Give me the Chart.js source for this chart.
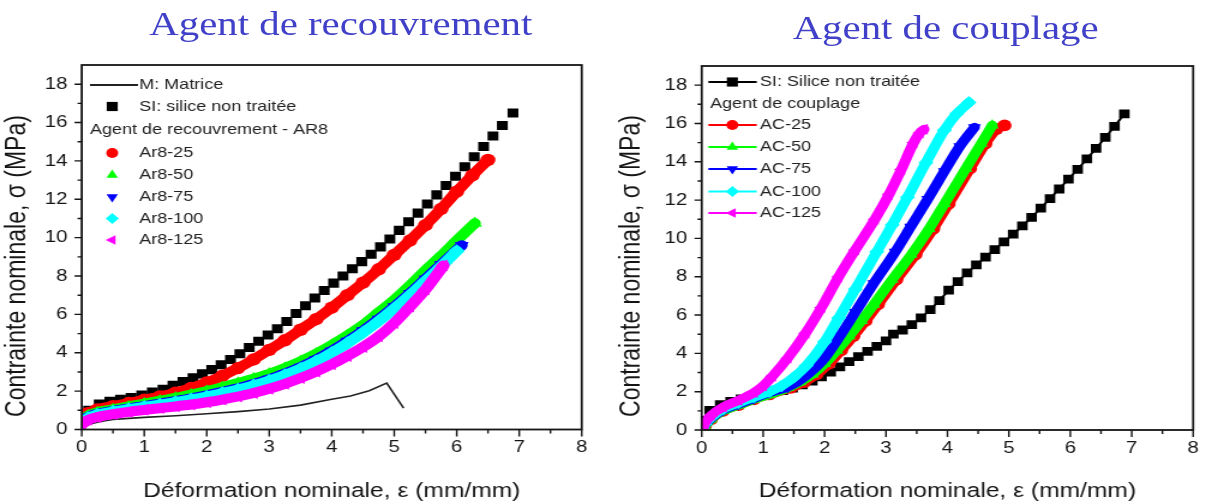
<!DOCTYPE html>
<html>
<head>
<meta charset="utf-8">
<script src="https://cdn.jsdelivr.net/npm/chart.js@4.4.0/dist/chart.umd.min.js"></script>
<style>
  body { margin: 0; background: #fff; width: 1208px; height: 504px; overflow: hidden; position: relative; }
  .panel { position: absolute; top: 0; height: 504px; transform: scaleX(1.2); transform-origin: 0 0; }
  .panel canvas { position: absolute; left: 0; top: 0; }
  .title { position: absolute; width: 400px; text-align: center; font-family: 'Liberation Serif', 'Times New Roman', serif; font-size: 34px; color: #4040c8; white-space: nowrap; }
</style>
</head>
<body>
<div class="panel" style="left:0;width:500px">
  <div class="title" style="left:84px;top:5px">Agent de recouvrement</div>
  <canvas id="left" width="500" height="504"></canvas>
</div>
<div class="panel" style="left:600px;width:507px">
  <div class="title" style="left:88px;top:9px">Agent de couplage</div>
  <canvas id="right" width="507" height="504"></canvas>
</div>
<script>
// axis ticks
const xTicks = [0, 1, 2, 3, 4, 5, 6, 7, 8];
const xMinorTicks = [0.5, 1.5, 2.5, 3.5, 4.5, 5.5, 6.5, 7.5];
const yTicks = [0, 2, 4, 6, 8, 10, 12, 14, 16, 18];
const yMinorTicks = [1, 3, 5, 7, 9, 11, 13, 15, 17];

const xTitle = "Déformation nominale, ε (mm/mm)";
const yTitle = "Contrainte nominale, σ (MPa)";

// left panel : agent de recouvrement  [strain, stress]
const matrice = [[0,0],[0.05,0.15],[0.15,0.3],[0.3,0.42],[0.5,0.52],[0.75,0.58],[1,0.63],[1.5,0.72],[2,0.82],[2.5,0.93],[3,1.07],[3.5,1.27],[4,1.58],[4.3,1.75],[4.6,2.02],[4.88,2.42],[5.15,1.11]];
const siLeft = [[0.02,0.75],[0.11,1.0],[0.28,1.33],[0.45,1.47],[0.62,1.57],[0.79,1.67],[0.96,1.8],[1.13,1.95],[1.3,2.1],[1.46,2.3],[1.62,2.5],[1.78,2.7],[1.93,2.9],[2.08,3.12],[2.23,3.37],[2.38,3.65],[2.53,3.95],[2.68,4.27],[2.83,4.6],[2.98,4.93],[3.13,5.25],[3.28,5.63],[3.43,6.05],[3.58,6.45],[3.73,6.85],[3.88,7.25],[4.03,7.63],[4.18,8.0],[4.33,8.38],[4.48,8.75],[4.63,9.13],[4.78,9.52],[4.93,9.93],[5.08,10.38],[5.23,10.83],[5.38,11.28],[5.53,11.75],[5.68,12.23],[5.83,12.72],[5.98,13.2],[6.13,13.7],[6.28,14.22],[6.43,14.75],[6.58,15.3],[6.73,15.85],[6.9,16.5]];
const ar25 = [[0,0.5],[0.1,0.85],[0.25,1.05],[0.5,1.22],[0.75,1.38],[1,1.55],[1.25,1.72],[1.5,1.92],[1.75,2.17],[2,2.45],[2.25,2.8],[2.5,3.2],[2.75,3.65],[3,4.15],[3.25,4.65],[3.5,5.2],[3.75,5.75],[4,6.35],[4.25,7.0],[4.5,7.65],[4.75,8.35],[5,9.1],[5.25,9.85],[5.5,10.65],[5.75,11.5],[6,12.4],[6.25,13.25],[6.5,14.05]];
const ar50 = [[0,0.4],[0.1,0.72],[0.25,0.9],[0.5,1.05],[0.75,1.2],[1,1.35],[1.25,1.5],[1.5,1.65],[1.75,1.82],[2,2.0],[2.25,2.2],[2.5,2.42],[2.75,2.65],[3,2.9],[3.25,3.2],[3.5,3.55],[3.75,3.95],[4,4.4],[4.25,4.9],[4.5,5.45],[4.75,6.1],[5,6.75],[5.25,7.5],[5.5,8.3],[5.75,9.05],[6,9.85],[6.29,10.75]];
const ar75 = [[0,0.35],[0.1,0.65],[0.25,0.82],[0.5,0.97],[0.75,1.1],[1,1.22],[1.25,1.35],[1.5,1.48],[1.75,1.62],[2,1.78],[2.25,1.96],[2.5,2.15],[2.75,2.37],[3,2.62],[3.25,2.92],[3.5,3.25],[3.75,3.65],[4,4.1],[4.25,4.6],[4.5,5.15],[4.75,5.75],[5,6.4],[5.25,7.1],[5.5,7.85],[5.75,8.6],[6.08,9.6]];
const ar100 = [[0,0.3],[0.1,0.6],[0.25,0.78],[0.5,0.93],[0.75,1.06],[1,1.18],[1.25,1.3],[1.5,1.43],[1.75,1.57],[2,1.72],[2.25,1.9],[2.5,2.08],[2.75,2.3],[3,2.55],[3.25,2.84],[3.5,3.17],[3.75,3.56],[4,4.0],[4.25,4.5],[4.5,5.05],[4.75,5.65],[5,6.3],[5.25,7.0],[5.5,7.75],[5.75,8.5],[6.0,9.3]];
const ar125 = [[0,0.25],[0.1,0.5],[0.25,0.65],[0.5,0.8],[0.75,0.92],[1,1.02],[1.25,1.11],[1.5,1.2],[1.75,1.3],[2,1.42],[2.25,1.56],[2.5,1.72],[2.75,1.9],[3,2.12],[3.25,2.38],[3.5,2.68],[3.75,3.02],[4,3.4],[4.25,3.83],[4.5,4.3],[4.75,4.85],[5,5.55],[5.25,6.4],[5.5,7.3],[5.79,8.55]];

// right panel : agent de couplage
const siRight = [[0.03,0.5],[0.13,1.02],[0.3,1.33],[0.47,1.5],[0.64,1.62],[0.81,1.73],[0.98,1.84],[1.15,1.95],[1.32,2.05],[1.48,2.18],[1.64,2.35],[1.8,2.55],[1.95,2.77],[2.1,3.02],[2.25,3.3],[2.4,3.57],[2.55,3.83],[2.7,4.1],[2.85,4.37],[3.0,4.65],[3.12,5.0],[3.27,5.22],[3.42,5.5],[3.57,5.85],[3.72,6.28],[3.87,6.75],[4.02,7.3],[4.17,7.75],[4.32,8.2],[4.47,8.62],[4.62,9.02],[4.77,9.42],[4.92,9.82],[5.07,10.22],[5.22,10.65],[5.37,11.1],[5.52,11.58],[5.67,12.08],[5.82,12.58],[5.97,13.1],[6.12,13.6],[6.27,14.15],[6.42,14.7],[6.57,15.27],[6.72,15.85],[6.88,16.5]];
const ac25 = [[0,0],[0.05,0.2],[0.15,0.55],[0.35,1.0],[0.6,1.3],[0.85,1.6],[1.1,1.85],[1.45,2.2],[1.67,2.5],[1.87,2.9],[2.07,3.45],[2.27,4.15],[2.47,4.9],[2.67,5.7],[2.87,6.55],[3.17,7.85],[3.48,9.15],[3.77,10.5],[4.02,11.8],[4.37,13.65],[4.62,14.95],[4.8,15.7],[4.93,15.9]];
const ac50 = [[0,0],[0.05,0.2],[0.15,0.55],[0.35,1.0],[0.6,1.3],[0.85,1.6],[1.1,1.85],[1.4,2.2],[1.6,2.5],[1.8,2.9],[2.0,3.45],[2.2,4.15],[2.4,4.9],[2.6,5.7],[2.8,6.55],[3.1,7.85],[3.41,9.15],[3.7,10.5],[3.95,11.8],[4.3,13.65],[4.55,14.95],[4.73,15.9]];
const ac75 = [[0,0],[0.05,0.25],[0.15,0.6],[0.35,1.05],[0.6,1.35],[0.85,1.65],[1.1,1.95],[1.4,2.25],[1.6,2.6],[1.8,3.1],[2.0,3.75],[2.25,4.9],[2.5,6.15],[2.8,7.65],[3.15,9.3],[3.4,10.6],[3.68,12.05],[3.95,13.5],[4.2,14.8],[4.44,15.8]];
const ac100 = [[0,0],[0.05,0.3],[0.15,0.65],[0.35,1.1],[0.6,1.42],[0.85,1.72],[1.1,2.0],[1.3,2.3],[1.5,2.75],[1.7,3.35],[2.0,4.6],[2.23,5.85],[2.5,7.35],[2.85,9.3],[3.1,10.7],[3.35,12.15],[3.65,13.95],[3.95,15.65],[4.15,16.5],[4.35,17.1]];
const ac125 = [[0,0],[0.05,0.35],[0.15,0.75],[0.35,1.2],[0.6,1.55],[0.85,1.95],[1.0,2.3],[1.15,2.8],[1.4,3.75],[1.69,5.05],[1.95,6.4],[2.23,8.0],[2.5,9.4],[2.82,11.0],[3.05,12.3],[3.25,13.6],[3.45,15.0],[3.55,15.5],[3.62,15.7]];

const FONT = "'Liberation Sans', Arial, sans-serif";
const INK = "#151515";

function xy(pairs) {
  return pairs.map(p => ({ x: p[0], y: p[1] }));
}

function band(label, pairs, color, style, rot, width, radius, order) {
  return {
    label, data: xy(pairs), showLine: true, order,
    borderColor: color, backgroundColor: color, borderWidth: width,
    borderJoinStyle: "round", borderCapStyle: "round",
    cubicInterpolationMode: "monotone",
    pointStyle: style, pointRotation: rot, pointRadius: radius,
    pointBackgroundColor: color, pointBorderWidth: 0, pointHoverRadius: radius
  };
}

function marker(ctx, ds, x, y, r) {
  ctx.fillStyle = ds.pointBackgroundColor;
  ctx.strokeStyle = ds.pointBackgroundColor;
  Chart.helpers.drawPoint(ctx, { pointStyle: ds.pointStyle, rotation: ds.pointRotation || 0, radius: r, borderWidth: 0 }, x, y);
}

// frame, minor ticks, y title, legend
const decor = {
  id: "decor",
  afterDraw(chart, args, o) {
    const { ctx, chartArea: a, scales } = chart;
    ctx.save();
    ctx.strokeStyle = INK;
    ctx.lineWidth = 1.8;
    ctx.strokeRect(a.left, a.top, a.right - a.left, a.bottom - a.top);

    ctx.lineWidth = 1.4;
    ctx.beginPath();
    xTicks.concat(xMinorTicks).forEach(v => {
      const p = scales.x.getPixelForValue(v);
      const len = xTicks.includes(v) ? 7 : 4;
      ctx.moveTo(p, a.bottom);
      ctx.lineTo(p, a.bottom + len);
    });
    yTicks.concat(yMinorTicks).forEach(v => {
      const p = scales.y.getPixelForValue(v);
      const len = yTicks.includes(v) ? 6 : 3.5;
      ctx.moveTo(a.left, p);
      ctx.lineTo(a.left - len, p);
    });
    ctx.stroke();

    ctx.save();
    ctx.translate(o.yTitleX, o.yTitleY);
    ctx.rotate(-Math.PI / 2);
    ctx.font = "23px " + FONT;
    ctx.fillStyle = INK;
    ctx.textAlign = "center";
    ctx.textBaseline = "middle";
    ctx.fillText(yTitle, 0, 0);
    ctx.restore();

    const lg = o.legend;
    ctx.font = "15px " + FONT;
    ctx.textAlign = "left";
    ctx.textBaseline = "middle";
    lg.rows.forEach(row => {
      ctx.fillStyle = "#222";
      if (row.header) {
        ctx.fillText(row.header, lg.hx, row.y);
        return;
      }
      const ds = chart.data.datasets[row.ds];
      if (row.line) {
        ctx.strokeStyle = ds.borderColor;
        ctx.lineWidth = 1.8;
        ctx.beginPath();
        ctx.moveTo(lg.x0, row.y);
        ctx.lineTo(lg.x1, row.y);
        ctx.stroke();
      }
      if (ds.pointRadius > 0) marker(ctx, ds, lg.mx, row.y, row.r || 5);
      ctx.fillStyle = "#222";
      ctx.fillText(ds.label, lg.tx, row.y);
    });
    ctx.restore();
  }
};

function scalesFor(yWidth, xHeight) {
  return {
    x: {
      type: "linear", min: 0, max: 8,
      afterBuildTicks: s => { s.ticks = xTicks.map(v => ({ value: v })); },
      afterFit: s => { s.height = xHeight; },
      ticks: { color: INK, font: { family: FONT, size: 17 }, padding: 8, maxRotation: 0, autoSkip: false },
      grid: { drawOnChartArea: false, drawTicks: false },
      border: { display: false },
      title: { display: true, text: xTitle, color: INK, font: { family: FONT, size: 20.5 }, padding: 0 }
    },
    y: {
      type: "linear", min: 0, max: 19,
      afterBuildTicks: s => { s.ticks = yTicks.map(v => ({ value: v })); },
      afterFit: s => { s.width = yWidth; },
      ticks: { color: INK, font: { family: FONT, size: 17 }, padding: 12, autoSkip: false },
      grid: { drawOnChartArea: false, drawTicks: false },
      border: { display: false }
    }
  };
}

new Chart(document.getElementById("left"), {
  type: "scatter",
  data: {
    datasets: [
      { label: "M: Matrice", data: xy(matrice), showLine: true, borderColor: "#222", borderWidth: 1.6, pointRadius: 0, order: 20 },
      { label: "SI: silice non traitée", data: xy(siLeft), showLine: false, pointStyle: "rect", pointRadius: 6.4, pointBackgroundColor: "#000", pointBorderWidth: 0, order: 10 },
      band("Ar8-25", ar25, "#ff0000", "circle", 0, 10, 6.2, 5),
      band("Ar8-50", ar50, "#00ff00", "triangle", 0, 10, 6.8, 4),
      band("Ar8-75", ar75, "#0000ff", "triangle", 180, 10, 6.8, 3),
      band("Ar8-100", ar100, "#00ffff", "rectRot", 0, 10, 6.8, 2),
      band("Ar8-125", ar125, "#ff00ff", "triangle", -90, 10, 6.8, 1)
    ]
  },
  options: {
    responsive: false, animation: false, events: [],
    layout: { padding: { top: 65, right: 15.25, left: 0, bottom: 0 } },
    scales: scalesFor(68.1, 74.5),
    plugins: {
      legend: { display: false }, tooltip: { enabled: false },
      decor: {
        yTitleX: 15, yTitleY: 266,
        legend: {
          x0: 75, x1: 115, mx: 93.5, tx: 116, hx: 75,
          rows: [
            { ds: 0, y: 85, line: true },
            { ds: 1, y: 106.5, r: 6.5 },
            { header: "Agent de recouvrement - AR8", y: 130 },
            { ds: 2, y: 153 },
            { ds: 3, y: 175, r: 5.5 },
            { ds: 4, y: 197, r: 5.5 },
            { ds: 5, y: 218.5, r: 5.5 },
            { ds: 6, y: 240, r: 5.5 }
          ]
        }
      }
    }
  },
  plugins: [decor]
});

new Chart(document.getElementById("right"), {
  type: "scatter",
  data: {
    datasets: [
      { label: "SI: Silice non traitée", data: xy(siRight), showLine: true, borderColor: "#000", borderWidth: 2, pointStyle: "rect", pointRadius: 6.2, pointBackgroundColor: "#000", pointBorderWidth: 0, order: 10 },
      band("AC-25", ac25, "#ff0000", "circle", 0, 9, 5.8, 5),
      band("AC-50", ac50, "#00ff00", "triangle", 0, 9, 6.3, 4),
      band("AC-75", ac75, "#0000ff", "triangle", 180, 9, 6.3, 3),
      band("AC-100", ac100, "#00ffff", "rectRot", 0, 9, 6.3, 2),
      band("AC-125", ac125, "#ff00ff", "triangle", -90, 9, 6.3, 1)
    ]
  },
  options: {
    responsive: false, animation: false, events: [],
    layout: { padding: { top: 66, right: 10.3, left: 0, bottom: 0 } },
    scales: scalesFor(84.75, 74),
    plugins: {
      legend: { display: false }, tooltip: { enabled: false },
      decor: {
        yTitleX: 27, yTitleY: 266,
        legend: {
          x0: 90.3, x1: 130.6, mx: 110.3, tx: 133.3, hx: 91.7,
          rows: [
            { ds: 0, y: 82, line: true, r: 6.5 },
            { header: "Agent de couplage", y: 103.5 },
            { ds: 1, y: 125, line: true },
            { ds: 2, y: 147, line: true, r: 5.5 },
            { ds: 3, y: 169, line: true, r: 5.5 },
            { ds: 4, y: 191.5, line: true, r: 5.5 },
            { ds: 5, y: 213, line: true, r: 5.5 }
          ]
        }
      }
    }
  },
  plugins: [decor]
});
</script>
</body>
</html>
